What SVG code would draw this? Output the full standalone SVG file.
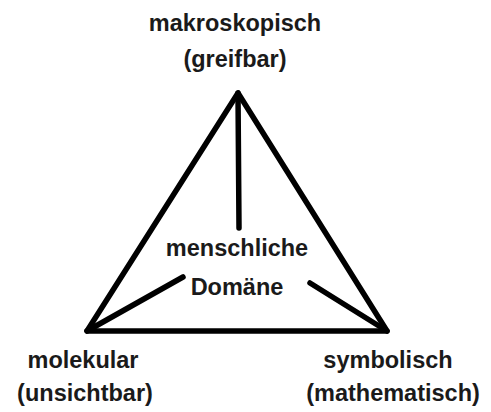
<svg xmlns="http://www.w3.org/2000/svg" width="491" height="412" viewBox="0 0 491 412">
  <style>
    .edge { stroke: #000; stroke-width: 5.5; stroke-linecap: round; stroke-linejoin: round; fill: none; }
    .lbl { font-family: "Liberation Sans", Arial, sans-serif; font-weight: bold; font-size: 23.5px; fill: #1a1a1a; text-anchor: middle; }
  </style>
  <rect width="491" height="412" fill="#fff"/>
  <g id="connectors">
    <polygon class="edge" points="238,93 87,331 387,331"/>
    <line class="edge" x1="238" y1="93" x2="239" y2="228"/>
    <line class="edge" x1="87" y1="331" x2="183" y2="277"/>
    <line class="edge" x1="387" y1="331" x2="310" y2="283"/>
  </g>
  <g id="makroskopisch">
    <text class="lbl" x="235" y="31">makroskopisch</text>
    <text class="lbl" x="235" y="67">(greifbar)</text>
  </g>
  <g id="molekular">
    <text class="lbl" x="83" y="368">molekular</text>
    <text class="lbl" x="85" y="401">(unsichtbar)</text>
  </g>
  <g id="symbolisch">
    <text class="lbl" x="388" y="368">symbolisch</text>
    <text class="lbl" x="393" y="401">(mathematisch)</text>
  </g>
  <g id="domaene">
    <text class="lbl" x="237" y="256">menschliche</text>
    <text class="lbl" x="237" y="295">Domäne</text>
  </g>
</svg>
